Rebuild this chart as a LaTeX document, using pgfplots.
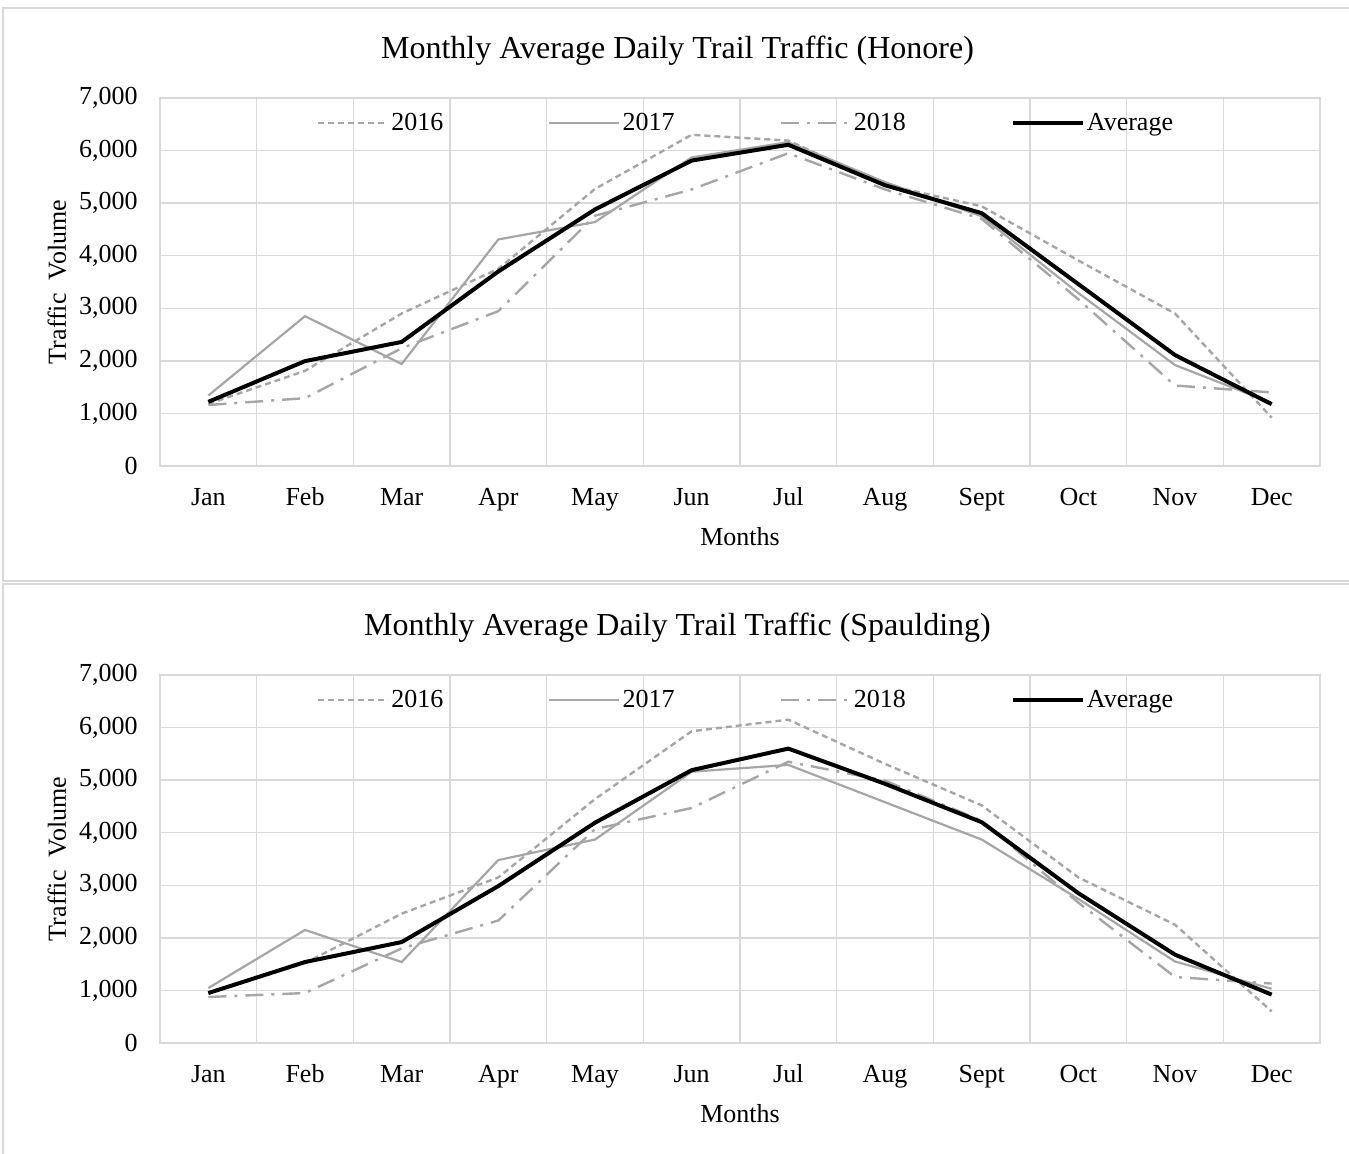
\documentclass[border=0pt]{standalone}
\usepackage{fontspec}
\setmainfont{Liberation Serif}
\usepackage{pgfplots}
\pgfplotsset{compat=1.18}
\definecolor{gridc}{HTML}{D9D9D9}
\definecolor{framec}{HTML}{D9D9D9}
\definecolor{serc}{HTML}{A6A6A6}
\newcommand{\tfont}{\fontsize{13}{15}\selectfont}
\pgfplotsset{
  trail/.style={
    scale only axis, width=580pt, height=184pt,
    xmin=-0.5, xmax=11.5, ymin=0, ymax=7000,
    xtick={0,...,11},
    xticklabels={Jan,Feb,Mar,Apr,May,Jun,Jul,Aug,Sept,Oct,Nov,Dec},
    minor xtick={-0.5,0.5,...,11.5},
    xminorgrids, ymajorgrids,
    ytick={0,1000,...,7000},
    grid style={draw=gridc, line width=0.75pt},
    minor grid style={draw=gridc, line width=0.75pt},
    axis line style={draw=gridc, line width=0.75pt},
    major tick length=0pt, minor tick length=0pt,
    tick label style={font=\tfont},
    xticklabel style={anchor=base, yshift=-20pt},
    yticklabel style={anchor=east, inner sep=0pt, xshift=-11pt},
    /pgf/number format/assume math mode=true,
    /pgf/number format/1000 sep={,},
    scaled y ticks=false,
    xlabel={Months}, ylabel={Traffic\ \ Volume},
    label style={font=\tfont},
    xlabel style={at={(axis description cs:0.5,0)}, anchor=center, yshift=-35.5pt},
    ylabel style={at={(axis description cs:0,0.5)}, anchor=center, rotate=0, yshift=51.5pt},
    title style={font=\fontsize{16}{18}\selectfont, at={(axis description cs:0.5,1)}, anchor=center, xshift=-31.25pt, yshift=17.5pt},
    legend columns=4,
    legend style={at={(axis description cs:0.5,1)}, anchor=center, yshift=-12.5pt, xshift=3pt,
      draw=none, fill=none, font=\tfont,
      nodes={inner sep=1pt},
      /tikz/every even column/.append style={column sep=51.5pt}},
    legend image code/.code={\draw[##1] (0pt,0pt) -- (35pt,0pt);},
    s2016/.style={color=serc, line width=1.2pt, dash pattern=on 3pt off 2pt},
    s2017/.style={color=serc, line width=1.1pt},
    s2018/.style={color=serc, line width=1.2pt, dash pattern=on 9pt off 4pt on 1.5pt off 4pt},
    savg/.style={color=black, line width=2pt},
  }
}
\begin{document}
\begin{tikzpicture}
\clip (0,0) rectangle (674.5pt,577pt);
\draw[framec, line width=1pt] (1.5pt,286.5pt) rectangle (690pt,573pt);
\draw[framec, line width=1pt] (1.5pt,-10pt) rectangle (690pt,285pt);
\begin{axis}[trail, at={(80pt,344pt)}, anchor=south west,
  title={Monthly Average Daily Trail Traffic (Honore)}]
\addplot[s2016] coordinates {(0,1180) (1,1810) (2,2900) (3,3750) (4,5270) (5,6300) (6,6190) (7,5350) (8,4940) (9,3910) (10,2900) (11,920)};
\addlegendentry{2016}
\addplot[s2017] coordinates {(0,1340) (1,2850) (2,1940) (3,4310) (4,4640) (5,5870) (6,6160) (7,5400) (8,4750) (9,3290) (10,1920) (11,1200)};
\addlegendentry{2017}
\addplot[s2018] coordinates {(0,1160) (1,1290) (2,2240) (3,2945) (4,4760) (5,5260) (6,5950) (7,5260) (8,4700) (9,3170) (10,1530) (11,1400)};
\addlegendentry{2018}
\addplot[savg] coordinates {(0,1220) (1,1995) (2,2360) (3,3700) (4,4880) (5,5810) (6,6110) (7,5340) (8,4810) (9,3460) (10,2110) (11,1175)};
\addlegendentry{Average}
\end{axis}
\begin{axis}[trail, at={(80pt,55.5pt)}, anchor=south west,
  title={Monthly Average Daily Trail Traffic (Spaulding)}]
\addplot[s2016] coordinates {(0,940) (1,1520) (2,2460) (3,3150) (4,4640) (5,5930) (6,6150) (7,5310) (8,4520) (9,3150) (10,2250) (11,600)};
\addlegendentry{2016}
\addplot[s2017] coordinates {(0,1045) (1,2150) (2,1540) (3,3480) (4,3870) (5,5160) (6,5290) (7,4580) (8,3870) (9,2740) (10,1550) (11,1030)};
\addlegendentry{2017}
\addplot[s2018] coordinates {(0,875) (1,950) (2,1800) (3,2330) (4,4070) (5,4470) (6,5350) (7,4990) (8,4230) (9,2670) (10,1255) (11,1130)};
\addlegendentry{2018}
\addplot[savg] coordinates {(0,950) (1,1540) (2,1920) (3,2985) (4,4190) (5,5190) (6,5600) (7,4930) (8,4200) (9,2850) (10,1680) (11,920)};
\addlegendentry{Average}
\end{axis}
\end{tikzpicture}
\end{document}
